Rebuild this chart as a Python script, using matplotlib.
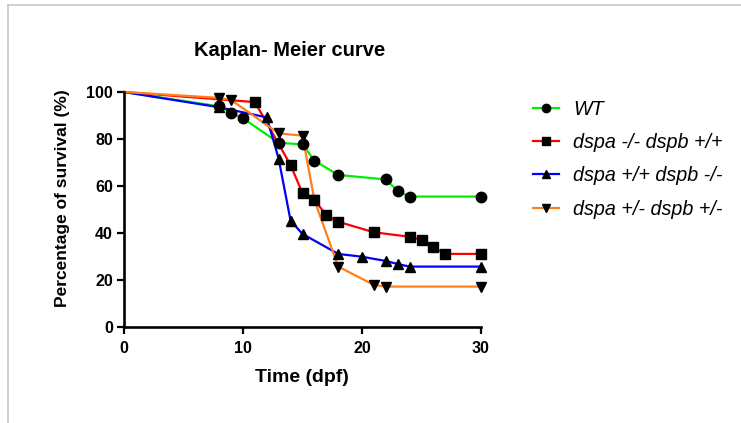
import matplotlib
matplotlib.use("Agg")
import matplotlib.pyplot as plt
from matplotlib.lines import Line2D

plt.rcParams['font.family'] = ['Liberation Sans', 'DejaVu Sans']

# survival data (time in dpf, % survival)
wt_t = [0, 8, 9, 10, 13, 15, 16, 18, 22, 23, 24, 30]
wt_v = [100, 93.9, 91.2, 88.8, 78.4, 77.7, 70.8, 64.7, 62.8, 57.9, 55.5, 55.5]

ko_a_t = [0, 11, 14, 15, 16, 17, 18, 21, 24, 25, 26, 27, 30]
ko_a_v = [100, 95.7, 68.9, 56.9, 54.0, 47.7, 44.8, 40.3, 38.4, 37.0, 33.9, 31.1, 31.1]

ko_b_t = [0, 8, 12, 13, 14, 15, 18, 20, 22, 23, 24, 30]
ko_b_v = [100, 93.5, 89.2, 71.5, 45.2, 39.6, 31.1, 29.9, 28.1, 26.8, 25.7, 25.7]

het_t = [0, 8, 9, 13, 15, 16, 18, 21, 22, 30]
het_v = [100, 97.5, 96.6, 82.4, 81.4, 54.0, 25.7, 17.9, 17.2, 17.2]

labels = ['WT', 'dspa -/- dspb +/+', 'dspa +/+ dspb -/-', 'dspa +/- dspb +/-']
colors = ['#00ee00', '#ff0000', '#0000ff', '#ff7f1a']
markers = ['o', 's', '^', 'v']

W, H = 741, 423
fig = plt.figure(figsize=(W / 100, H / 100), dpi=100)
ax = fig.add_axes([124 / W, 1 - 327 / H, (481 - 124) / W, (327 - 92) / H])

series = [(wt_t, wt_v), (ko_a_t, ko_a_v), (ko_b_t, ko_b_v), (het_t, het_v)]
for (t, v), lab, c, m in zip(series, labels, colors, markers):
    # coloured line, black markers on top (first point has no marker)
    ax.plot(t, v, color=c, lw=1.6, label=lab, clip_on=False, zorder=2)
    ax.plot(t[1:], v[1:], ls='none', marker=m, color='black', ms=7.5, clip_on=False, zorder=3)

ax.set_xlim(0, 30)
ax.set_ylim(0, 100)
ax.set_xticks([0, 10, 20, 30])
ax.set_yticks([0, 20, 40, 60, 80, 100])
for s in ['top', 'right']:
    ax.spines[s].set_visible(False)
for s in ['left', 'bottom']:
    ax.spines[s].set_linewidth(1.9)
ax.tick_params(direction='out', length=5, width=1.6, pad=3, labelsize=11.5)
ax.tick_params(axis='x', pad=5)
for lbl in ax.get_xticklabels() + ax.get_yticklabels():
    lbl.set_fontweight('bold')

fig.text(290 / W, 1 - 50 / H, 'Kaplan- Meier curve', ha='center', va='center',
         fontsize=14.5, fontweight='bold')
fig.text(302 / W, 1 - 377 / H, 'Time (dpf)', ha='center', va='center',
         fontsize=14, fontweight='bold')
fig.text(63 / W, 1 - 198 / H, 'Percentage of survival (%)', ha='center', va='center',
         rotation=90, fontsize=12.5, fontweight='bold')

handles = [Line2D([0], [0], color=c, lw=1.6, marker=m, markerfacecolor='black',
                  markeredgecolor='black', ms=6) for c, m in zip(colors, markers)]
fig.legend(handles, labels, loc='upper left', bbox_to_anchor=(533 / W, 1 - 100 / H),
           frameon=False, borderpad=0, borderaxespad=0, handlelength=1.32,
           handletextpad=0.71, labelspacing=0.72,
           prop={'style': 'italic', 'size': 14.2})

# grey frame of the original screenshot
fig.add_artist(Line2D([8 / W, 8 / W], [0, 1 - 5 / H], color='#c8c8c8', lw=1.2))
fig.add_artist(Line2D([8 / W, 1], [1 - 5 / H, 1 - 5 / H], color='#c8c8c8', lw=1.2))

fig.savefig('out.png', dpi=100)
